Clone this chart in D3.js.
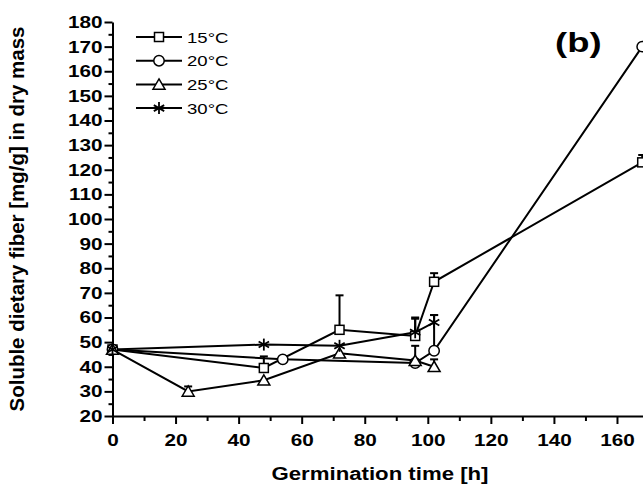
<!DOCTYPE html>
<html><head><meta charset="utf-8">
<script src="https://cdn.jsdelivr.net/npm/d3@7"></script>
<style>body{margin:0;background:#fff}svg{display:block}text{font-family:"Liberation Sans",Arial,sans-serif;fill:#000}</style>
</head><body><svg id="c" width="643" height="485"></svg>
<script>
// Data (germination time in h, soluble dietary fibre mg/g, upper error)
const seriesNames = ["15°C","20°C","25°C","30°C"];
const symbols = ["square","circle","triangle","asterisk"];
const times15 = [0,48,72,96,102,168];
const vals15  = [47,39.5,55,52.5,74.5,123];
const err15   = [0,4.7,14,7.5,3.5,3];
const times20 = [0,54,96,102,168];
const vals20  = [47,43,41.5,46.5,170];
const err20   = [0,0,1,14.5,0];
const times25 = [0,24,48,72,96,102];
const vals25  = [47,30,34.5,45.5,42.5,40];
const err25   = [0,2,0,0,6,3];
const times30 = [0,48,72,96,102];
const vals30  = [47,49,48.5,54,58];
const err30   = [0,0,0,5.5,3];
const xTicks = [0,20,40,60,80,100,120,140,160];
const yTicks = [20,30,40,50,60,70,80,90,100,110,120,130,140,150,160,170,180];
const xTitle = "Germination time [h]";
const yTitle = "Soluble dietary fiber [mg/g] in dry mass";
const panelLabel = "(b)";

const series = [
  {name:seriesNames[0], sym:symbols[0], t:times15, v:vals15, e:err15},
  {name:seriesNames[1], sym:symbols[1], t:times20, v:vals20, e:err20},
  {name:seriesNames[2], sym:symbols[2], t:times25, v:vals25, e:err25},
  {name:seriesNames[3], sym:symbols[3], t:times30, v:vals30, e:err30}
];

const svg = d3.select("#c");
const x = d3.scaleLinear().domain([0,170]).range([112.5, 112.5 + 170*3.153]);
const y = d3.scaleLinear().domain([20,180]).range([416,22]);
const SX = 1.22; // horizontal glyph stretch seen in the reference

// axes
const gx = svg.append("g").attr("transform","translate(0,416)")
  .call(d3.axisBottom(x).tickValues(xTicks).tickSize(8).tickSizeOuter(0).tickPadding(10));
const gxm = svg.append("g").attr("transform","translate(0,416)")
  .call(d3.axisBottom(x).tickValues(d3.range(10,170,20)).tickSize(5).tickSizeOuter(0).tickFormat(""));
const gy = svg.append("g").attr("transform","translate(112.5,0)")
  .call(d3.axisLeft(y).tickValues(yTicks).tickSize(8).tickSizeOuter(0).tickPadding(2));
const gym = svg.append("g").attr("transform","translate(112.5,0)")
  .call(d3.axisLeft(y).tickValues(d3.range(25,180,10)).tickSize(4).tickSizeOuter(0).tickFormat(""));
[gx,gxm,gy,gym].forEach(g=>{
  g.selectAll("path,line").attr("stroke","#000").attr("stroke-width",2);
});
gx.selectAll("text").attr("font-size",17).attr("font-weight","bold")
  .attr("transform",`scale(${SX},1)`);
gy.selectAll("text").attr("font-size",17).attr("font-weight","bold")
  .attr("x",-10/SX).attr("transform",`scale(${SX},1)`);
gxm.select(".domain").remove(); gym.select(".domain").remove();

// titles
svg.append("text").attr("transform",`translate(380,480) scale(1.2,1)`)
  .attr("text-anchor","middle").attr("font-size",18.5).attr("font-weight","bold").text(xTitle);
svg.append("text").attr("transform","translate(24,219) rotate(-90)")
  .attr("text-anchor","middle").attr("font-size",20.5).attr("font-weight","bold").text(yTitle);
svg.append("text").attr("transform",`translate(555,52) scale(1.35,1)`)
  .attr("font-size",27).attr("font-weight","bold").text(panelLabel);

// symbol drawer
function drawSymbol(g, sym, cx, cy){
  const s = g.append("g").attr("transform",`translate(${cx},${cy})`)
    .attr("stroke","#000").attr("stroke-width",1.5).attr("fill","#fff");
  if(sym==="square") s.append("rect").attr("x",-4.5).attr("y",-4.5).attr("width",9).attr("height",9);
  else if(sym==="circle") s.append("circle").attr("r",5.2);
  else if(sym==="triangle") s.append("path").attr("d","M0,-5.5L6,4.8L-6,4.8Z");
  else {
    [90,30,-30].forEach(a=>{
      const r=6, dx=r*Math.cos(a*Math.PI/180), dy=r*Math.sin(a*Math.PI/180);
      s.append("line").attr("x1",-dx).attr("y1",-dy).attr("x2",dx).attr("y2",dy).attr("stroke-width",1.8);
    });
  }
}

const plot = svg.append("g");
const line = d3.line().x(d=>x(d[0])).y(d=>y(d[1]));
series.forEach(s=>{
  const pts = s.t.map((t,i)=>[t,s.v[i]]);
  plot.append("path").attr("d",line(pts)).attr("fill","none").attr("stroke","#000").attr("stroke-width",2);
});
series.forEach(s=>{
  s.t.forEach((t,i)=>{
    if(s.e[i]>0){
      const px=x(t), y0=y(s.v[i]), y1=y(s.v[i]+s.e[i]);
      plot.append("line").attr("x1",px).attr("x2",px).attr("y1",y0).attr("y2",y1).attr("stroke","#000").attr("stroke-width",2);
      plot.append("line").attr("x1",px-4).attr("x2",px+4).attr("y1",y1).attr("y2",y1).attr("stroke","#000").attr("stroke-width",2);
    }
  });
});
series.forEach(s=>{
  s.t.forEach((t,i)=>drawSymbol(plot, s.sym, x(t), y(s.v[i])));
});

// legend
const leg = svg.append("g");
series.forEach((s,i)=>{
  const ly = 37 + i*23.7;
  leg.append("line").attr("x1",136).attr("x2",182).attr("y1",ly).attr("y2",ly).attr("stroke","#000").attr("stroke-width",2);
  drawSymbol(leg, s.sym, 159, ly);
  leg.append("text").attr("transform",`translate(187,${ly+5.5}) scale(1.28,1)`)
    .attr("font-size",14.5).text(s.name);
});
</script></body></html>
